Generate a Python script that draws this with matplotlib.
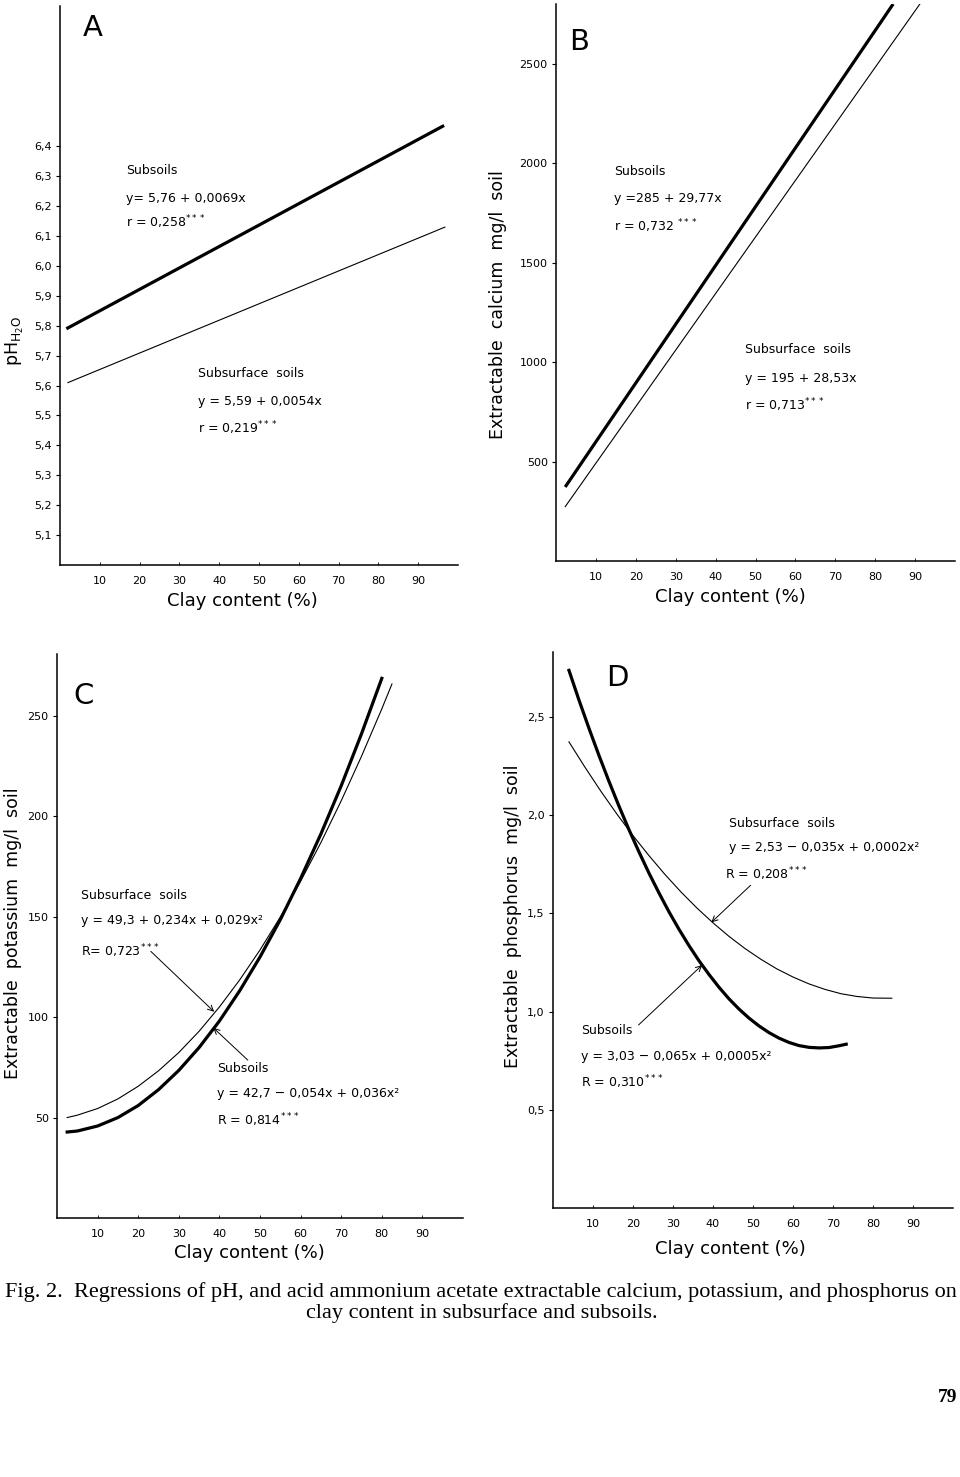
import matplotlib.pyplot as plt

plt.rcParams['font.family'] = ['DejaVu Sans']

clay_ticks = [10, 20, 30, 40, 50, 60, 70, 80, 90]
clay_labels = ['10', '20', '30', '40', '50', '60', '70', '80', '90']

# A - pH (regression lines, end points)
ph_ticks = [5.1, 5.2, 5.3, 5.4, 5.5, 5.6, 5.7, 5.8, 5.9, 6.0, 6.1, 6.2, 6.3, 6.4]
ph_labels = ['5,1', '5,2', '5,3', '5,4', '5,5', '5,6', '5,7', '5,8', '5,9',
             '6,0', '6,1', '6,2', '6,3', '6,4']
ph_sub_x = [1.6, 96.5]
ph_sub_y = [5.79, 6.47]
ph_surf_x = [2.0, 96.7]
ph_surf_y = [5.61, 6.13]

# B - calcium
ca_ticks = [500, 1000, 1500, 2000, 2500]
ca_sub_x = [2.3, 84.5]
ca_sub_y = [372, 2800]
ca_surf_x = [2.3, 91.2]
ca_surf_y = [273, 2800]

# C - potassium
k_ticks = [50, 100, 150, 200, 250]
k_sub_x = [2.5, 5, 10, 15, 20, 25, 30, 35, 40, 45, 50, 55, 60, 65, 70, 75, 80]
k_sub_y = [42.8, 43.3, 45.8, 50.0, 56.0, 63.9, 73.5, 84.9, 98.1, 113.2, 130.0,
           148.6, 169.1, 191.3, 215.3, 241.2, 268.8]
k_surf_x = [2.5, 5, 10, 15, 20, 25, 30, 35, 40, 45, 50, 55, 60, 65, 70, 75, 80, 82.5]
k_surf_y = [50.0, 51.2, 54.5, 59.3, 65.6, 73.3, 82.4, 93.0, 105.1, 118.6, 133.5,
            149.9, 167.7, 187.0, 207.8, 230.0, 253.6, 266.0]

# D - phosphorus
p_ticks = [0.5, 1.0, 1.5, 2.0, 2.5]
p_labels = ['0,5', '1,0', '1,5', '2,0', '2,5']
p_sub_x = [4, 6.5, 9, 11.5, 14, 16.5, 19, 21.5, 24, 26.5, 29, 31.5, 34, 36.5,
           39, 41.5, 44, 46.5, 49, 51.5, 54, 56.5, 59, 61.5, 64, 66.5, 69, 71.5, 73.3]
p_sub_y = [2.737, 2.586, 2.442, 2.304, 2.172, 2.046, 1.926, 1.813, 1.705, 1.604,
           1.508, 1.419, 1.336, 1.259, 1.189, 1.124, 1.065, 1.013, 0.967, 0.927,
           0.893, 0.865, 0.843, 0.827, 0.818, 0.815, 0.817, 0.826, 0.834]
p_surf_x = [4, 8, 12, 16, 20, 24, 28, 32, 36, 40, 44, 48, 52, 56, 60, 64, 68,
            72, 76, 80, 84.7]
p_surf_y = [2.373, 2.244, 2.121, 2.005, 1.896, 1.794, 1.698, 1.609, 1.527, 1.452,
            1.383, 1.321, 1.266, 1.217, 1.176, 1.141, 1.113, 1.091, 1.077, 1.069, 1.068]

THICK = 2.3
THIN = 0.8
TXT = 9


def frame(ax, ylim, yticks, ylabels):
    ax.set_xlim(0, 100)
    ax.set_ylim(*ylim)
    for s in ['top', 'right']:
        ax.spines[s].set_visible(False)
    for s in ['left', 'bottom']:
        ax.spines[s].set_linewidth(1.1)
    ax.set_xticks(clay_ticks)
    ax.set_xticklabels(clay_labels)
    ax.set_yticks(yticks)
    ax.set_yticklabels(ylabels)
    ax.tick_params(axis='y', direction='out', length=3, width=0.8, pad=3, labelsize=8)
    ax.tick_params(axis='x', direction='in', length=2, width=0.6, pad=8, labelsize=8)


def xlab(ax, x, y):
    ax.text(x, y, 'Clay content (%)', transform=ax.transAxes, fontsize=13,
            ha='center', va='center')


def ylab(ax, x, y, s):
    ax.text(x, y, s, transform=ax.transAxes, fontsize=12.5, rotation=90,
            ha='center', va='center')


def arrow(ax, tail, head):
    ax.annotate('', xy=head, xytext=tail,
                arrowprops=dict(arrowstyle='->', lw=0.7, color='black',
                                mutation_scale=10, shrinkA=0, shrinkB=0))


fig = plt.figure(figsize=(9.6, 14.77), dpi=100)

# ---- A ----
axA = fig.add_axes([0.0625, 0.6175, 0.4146, 0.3785])
axA.plot(ph_sub_x, ph_sub_y, color='black', lw=THICK, solid_capstyle='butt')
axA.plot(ph_surf_x, ph_surf_y, color='black', lw=THIN)
frame(axA, (5.0, 6.87), ph_ticks, ph_labels)
axA.text(8.3, 6.796, 'A', fontsize=21, ha='center', va='center')
axA.text(16.6, 6.318, 'Subsoils', fontsize=TXT, va='center')
axA.text(16.6, 6.226, 'y= 5,76 + 0,0069x', fontsize=TXT, va='center')
axA.text(16.6, 6.145, r'r = 0,258$^{\mathregular{***}}$', fontsize=TXT, va='center')
axA.text(34.6, 5.641, 'Subsurface  soils', fontsize=TXT, va='center')
axA.text(34.6, 5.546, 'y = 5,59 + 0,0054x', fontsize=TXT, va='center')
axA.text(34.6, 5.457, r'r = 0,219$^{\mathregular{***}}$', fontsize=TXT, va='center')
xlab(axA, 0.457, -0.064)
ylab(axA, -0.113, 0.40, r'pH$_{\mathregular{H_2O}}$')

# ---- B ----
axB = fig.add_axes([0.5792, 0.6202, 0.4156, 0.3771])
axB.plot(ca_sub_x, ca_sub_y, color='black', lw=THICK, solid_capstyle='butt')
axB.plot(ca_surf_x, ca_surf_y, color='black', lw=THIN)
frame(axB, (0, 2800), ca_ticks, [str(v) for v in ca_ticks])
axB.text(5.8, 2610, 'B', fontsize=21, ha='center', va='center')
axB.text(14.6, 1959, 'Subsoils', fontsize=TXT, va='center')
axB.text(14.6, 1823, 'y =285 + 29,77x', fontsize=TXT, va='center')
axB.text(14.6, 1684, r'r = 0,732 $^{\mathregular{***}}$', fontsize=TXT, va='center')
axB.text(47.4, 1063, 'Subsurface  soils', fontsize=TXT, va='center')
axB.text(47.4, 918, 'y = 195 + 28,53x', fontsize=TXT, va='center')
axB.text(47.4, 781, r'r = 0,713$^{\mathregular{***}}$', fontsize=TXT, va='center')
xlab(axB, 0.436, -0.065)
ylab(axB, -0.145, 0.46, 'Extractable  calcium  mg/l  soil')

# ---- C ----
axC = fig.add_axes([0.0594, 0.1754, 0.4229, 0.3819])
axC.plot(k_sub_x, k_sub_y, color='black', lw=THICK)
axC.plot(k_surf_x, k_surf_y, color='black', lw=THIN)
frame(axC, (0, 281), k_ticks, [str(v) for v in k_ticks])
axC.text(6.6, 260, 'C', fontsize=21, ha='center', va='center')
axC.text(5.8, 160.8, 'Subsurface  soils', fontsize=TXT, va='center')
axC.text(5.8, 148.4, 'y = 49,3 + 0,234x + 0,029x²', fontsize=TXT, va='center')
axC.text(5.8, 132.8, r'R= 0,723$^{\mathregular{***}}$', fontsize=TXT, va='center')
axC.text(39.5, 74.6, 'Subsoils', fontsize=TXT, va='center')
axC.text(39.5, 62.2, 'y = 42,7 − 0,054x + 0,036x²', fontsize=TXT, va='center')
axC.text(39.5, 48.6, r'R = 0,814$^{\mathregular{***}}$', fontsize=TXT, va='center')
arrow(axC, (23.1, 132.8), (38.7, 102.7))
arrow(axC, (47.0, 78.6), (38.5, 94.7))
xlab(axC, 0.475, -0.062)
ylab(axC, -0.108, 0.504, 'Extractable  potassium  mg/l  soil')

# ---- D ----
axD = fig.add_axes([0.576, 0.1821, 0.4167, 0.3764])
axD.plot(p_sub_x, p_sub_y, color='black', lw=THICK)
axD.plot(p_surf_x, p_surf_y, color='black', lw=THIN)
frame(axD, (0, 2.83), p_ticks, p_labels)
axD.text(16.0, 2.70, 'D', fontsize=21, ha='center', va='center')
axD.text(43.9, 1.957, 'Subsurface  soils', fontsize=TXT, va='center')
axD.text(43.9, 1.835, 'y = 2,53 − 0,035x + 0,0002x²', fontsize=TXT, va='center')
axD.text(42.9, 1.70, r'R = 0,208$^{\mathregular{***}}$', fontsize=TXT, va='center')
axD.text(7.0, 0.903, 'Subsoils', fontsize=TXT, va='center')
axD.text(7.0, 0.77, 'y = 3,03 − 0,065x + 0,0005x²', fontsize=TXT, va='center')
axD.text(7.0, 0.64, r'R = 0,310$^{\mathregular{***}}$', fontsize=TXT, va='center')
arrow(axD, (49.4, 1.643), (39.6, 1.454))
arrow(axD, (21.4, 0.932), (37.3, 1.237))
xlab(axD, 0.4425, -0.074)
ylab(axD, -0.10, 0.525, 'Extractable  phosphorus  mg/l  soil')

# caption + page number
fig.text(0.0052, 0.1253, 'Fig. 2.  Regressions of pH, and acid ammonium acetate extractable '
         'calcium, potassium, and phosphorus on', family='Liberation Serif',
         fontsize=16, ha='left', va='center')
fig.text(0.502, 0.1112, 'clay content in subsurface and subsoils.',
         family='Liberation Serif', fontsize=16, ha='center', va='center')
fig.text(0.9875, 0.054, '79', family='Liberation Serif', fontweight='bold',
         fontsize=14, ha='center', va='center')

fig.savefig('out.png', dpi=100)
